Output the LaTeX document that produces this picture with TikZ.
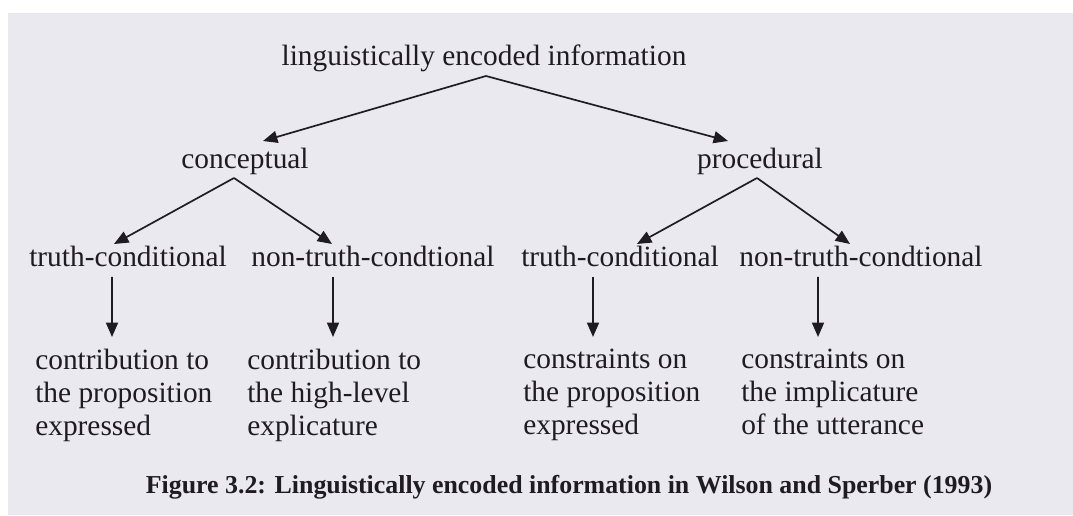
\documentclass[tikz,border=0pt]{standalone}
\usepackage{fontspec}
\setmainfont{Liberation Serif}
\usepackage{xcolor}
\usetikzlibrary{arrows.meta}
\definecolor{paper}{RGB}{235,233,240}
\definecolor{ink}{RGB}{30,28,34}

\begin{document}
\begin{tikzpicture}[
	term/.style={inner sep=0pt, text=ink, font=\fontsize{20.9}{23.4}\selectfont},
	gloss/.style={term, anchor=north west, align=left},
	link/.style={draw=ink, line width=1.2pt, -{Triangle[length=0.36cm, width=0.3cm]}}
]
	\useasboundingbox (0,0) rectangle (26.825,12.875);
	\fill[white] (0,0) rectangle (26.825,12.875);
	\fill[paper] (0.2,0) rectangle (26.825,12.55);
	\node[term, anchor=base] (0) at (12.10, 11.225) {linguistically encoded information};
	\node[term, anchor=base] (1) at (6.125, 8.65) {conceptual};
	\node[term, anchor=base] (2) at (19.0, 8.65) {procedural};
	\node[term, anchor=base] (3) at (3.2, 6.2) {truth-conditional};
	\node[term, anchor=base] (4) at (9.325, 6.2) {non-truth-condtional};
	\node[term, anchor=base] (5) at (15.5, 6.2) {truth-conditional};
	\node[term, anchor=base] (6) at (21.525, 6.2) {non-truth-condtional};
	\node[gloss] (7) at (0.875, 4.15) {contribution to\\the proposition\\expressed};
	\node[gloss] (8) at (6.175, 4.15) {contribution to\\the high-level\\explicature};
	\node[gloss] (9) at (13.075, 4.15) {constraints on\\the proposition\\expressed};
	\node[gloss] (10) at (18.525, 4.15) {constraints on\\the implicature\\of the utterance};
	\node[term, font=\bfseries\fontsize{18.4}{20}\selectfont, anchor=base] (11) at (14.225, 0.55) {Figure 3.2: Linguistically encoded information in Wilson and Sperber (1993)};
	\draw[link] ([shift={(0.05,-0.25)}]0.base) -- ([shift={(0.45,0.70)}]1.base);
	\draw[link] ([shift={(0.05,-0.25)}]0.base) -- ([shift={(-0.8,0.70)}]2.base);
	\draw[link] ([shift={(-0.275,-0.225)}]1.base) -- ([shift={(-0.35,0.575)}]3.base);
	\draw[link] ([shift={(-0.275,-0.225)}]1.base) -- ([shift={(-1.025,0.575)}]4.base);
	\draw[link] ([shift={(-0.075,-0.225)}]2.base) -- ([shift={(0.425,0.575)}]5.base);
	\draw[link] ([shift={(-0.075,-0.225)}]2.base) -- ([shift={(-0.275,0.575)}]6.base);
	\draw[link] ([shift={(-0.4,-0.25)}]3.base) -- ([shift={(1.925,0.3)}]7.north west);
	\draw[link] ([shift={(-1.0,-0.25)}]4.base) -- ([shift={(2.15,0.3)}]8.north west);
	\draw[link] ([shift={(-0.675,-0.25)}]5.base) -- ([shift={(1.75,0.3)}]9.north west);
	\draw[link] ([shift={(-1.075,-0.25)}]6.base) -- ([shift={(1.925,0.3)}]10.north west);
\end{tikzpicture}
\end{document}
